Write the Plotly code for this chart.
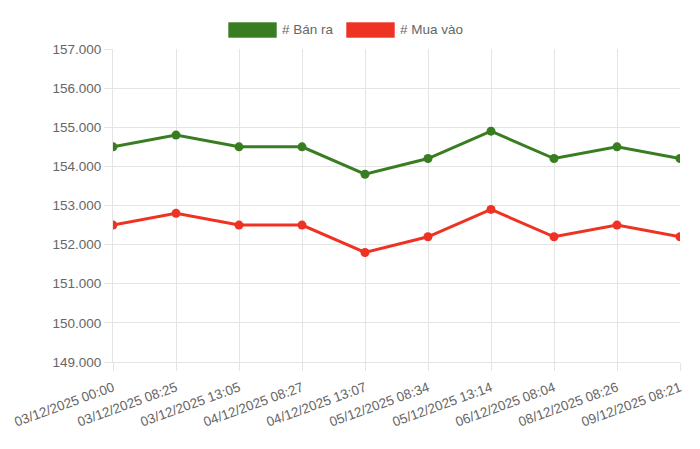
import plotly.graph_objects as go

# --- Data ---
times = [
    "03/12/2025 00:00", "03/12/2025 08:25", "03/12/2025 13:05",
    "04/12/2025 08:27", "04/12/2025 13:07", "05/12/2025 08:34",
    "05/12/2025 13:14", "06/12/2025 08:04", "08/12/2025 08:26",
    "09/12/2025 08:21",
]
ban_ra = [154500, 154800, 154500, 154500, 153800, 154200, 154900, 154200, 154500, 154200]
mua_vao = [152500, 152800, 152500, 152500, 151800, 152200, 152900, 152200, 152500, 152200]

series_names = ["# Bán ra", "# Mua vào"]
GREEN = "#387d22"
RED = "#ee3224"
GRID = "#e4e4e4"
TEXT = "#666666"
FS = 13.5

fig = go.Figure()
for name, vals, color in [(series_names[0], ban_ra, GREEN), (series_names[1], mua_vao, RED)]:
    fig.add_trace(go.Scatter(
        x=list(range(len(times))), y=vals, name=name, mode="lines+markers",
        line=dict(color=color, width=3),
        marker=dict(color=color, size=9),
        showlegend=False,
        hovertemplate="%{y}<extra>" + name + "</extra>",
    ))

# page has an 8px body margin, so work in page pixels and shift
W, H = 700, 449
OFF = 8
px0, px1, py0, py1 = 113, 680, 49, 362   # plot area on the page
L, T = px0 - OFF, py0 - OFF
R, B = W - (px1 - OFF), H - (py1 - OFF)
pw, ph = px1 - px0, py1 - py0

# legend drawn chart.js style (wide boxes)
legend_items = [(228, series_names[0], GREEN), (346, series_names[1], RED)]
for x0, label, color in legend_items:
    fig.add_shape(type="rect", xref="paper", yref="paper",
                  x0=(x0 - px0) / pw, x1=(x0 + 49 - px0) / pw,
                  y0=(py1 - 38) / ph, y1=(py1 - 22) / ph,
                  fillcolor=color, line=dict(color="rgba(255,255,255,0.6)", width=1))
    fig.add_annotation(xref="paper", yref="paper", x=(x0 + 52 - px0) / pw,
                       y=(py1 - 30) / ph, text=label, showarrow=False,
                       xanchor="left", yanchor="middle",
                       font=dict(size=FS, color=TEXT))

fig.update_layout(
    width=W, height=H,
    margin=dict(l=L, r=R, t=T, b=B, autoexpand=False),
    paper_bgcolor="white", plot_bgcolor="white",
    separators=",.",
    font=dict(family="Liberation Sans, Arial, sans-serif", size=12, color=TEXT),
    showlegend=False,
)
fig.update_xaxes(
    tickmode="array", tickvals=list(range(len(times))), ticktext=times,
    range=[0, len(times) - 1], tickangle=-20, automargin=False,
    ticklabelstandoff=4,
    showgrid=True, gridcolor=GRID, gridwidth=1,
    showline=True, linecolor=GRID, linewidth=1,
    ticks="outside", ticklen=8, tickcolor=GRID,
    tickfont=dict(size=FS, color=TEXT), zeroline=False,
)
fig.update_yaxes(
    range=[149000, 157000], dtick=1000, tickformat=",d", automargin=False,
    showgrid=True, gridcolor=GRID, gridwidth=1,
    showline=True, linecolor=GRID, linewidth=1,
    ticks="outside", ticklen=8, tickcolor=GRID,
    tickfont=dict(size=FS, color=TEXT), zeroline=False,
)

fig.write_html("out.html")
